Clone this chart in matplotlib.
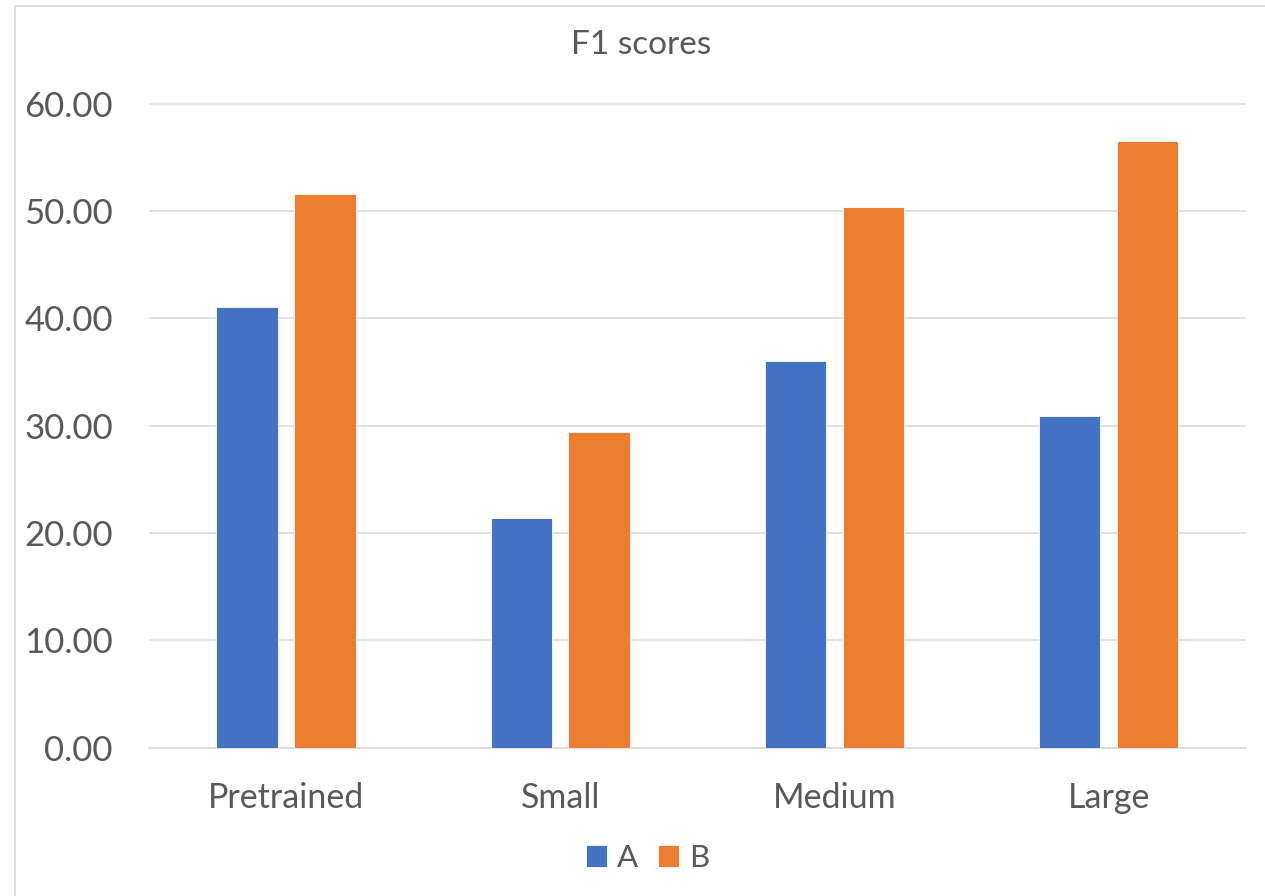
import matplotlib
matplotlib.use("Agg")
import matplotlib.pyplot as plt
from matplotlib.patches import Patch, Rectangle
import numpy as np

categories = ["Pretrained", "Small", "Medium", "Large"]
series_names = ["A", "B"]
values_a = [41.02, 21.34, 35.99, 30.89]
values_b = [51.55, 29.35, 50.40, 56.52]
y_ticks = [0, 10, 20, 30, 40, 50, 60]

BLUE = "#4472C4"
ORANGE = "#ED7D31"
TEXT = "#595959"
GRID = "#D9D9D9"

plt.rcParams["font.family"] = ["Lato", "DejaVu Sans"]

W, H = 1265, 896
fig = plt.figure(figsize=(W / 100, H / 100), dpi=100)

# chart-area border (runs off the right and bottom edges)
fig.patches.append(Rectangle((15 / W, -0.1), 1.2, 1.1 - 6 / H,
                             transform=fig.transFigure, fill=False,
                             edgecolor=GRID, linewidth=1.2, zorder=0))

ax = fig.add_axes([149 / W, 1 - 747.5 / H, (1245.7 - 149) / W, (747.5 - 103.5) / H])

x = np.arange(len(categories))
width = 0.2245
offset = 0.142
ax.bar(x - offset, values_a, width, color=BLUE, edgecolor="white", linewidth=0.6, zorder=3, label=series_names[0])
ax.bar(x + offset, values_b, width, color=ORANGE, edgecolor="white", linewidth=0.6, zorder=3, label=series_names[1])

ax.set_xlim(-0.5, len(categories) - 0.5)
ax.set_ylim(0, 60)
ax.set_yticks(y_ticks)
ax.set_yticklabels([f"{v:.2f}" for v in y_ticks])
ax.set_xticks(x)
ax.set_xticklabels(categories)

ax.yaxis.grid(True, color=GRID, linewidth=1.1, zorder=0)
ax.set_axisbelow(True)
for side in ["top", "right", "left"]:
    ax.spines[side].set_visible(False)
ax.spines["bottom"].set_color(GRID)
ax.spines["bottom"].set_linewidth(1.1)
ax.spines["bottom"].set_zorder(1)

ax.tick_params(axis="y", length=0, pad=26, labelsize=25, labelcolor=TEXT)
ax.tick_params(axis="x", length=0, pad=24.5, labelsize=24.5, labelcolor=TEXT)

fig.text(641.5 / W, 1 - 45.5 / H, "F1 scores", ha="center", va="center",
         fontsize=24, color=TEXT)

handles = [Patch(facecolor=BLUE, edgecolor="white", linewidth=0.6),
           Patch(facecolor=ORANGE, edgecolor="white", linewidth=0.6)]
fig.legend(handles, series_names, loc="center", bbox_to_anchor=(647.5 / W, 1 - 858 / H),
           ncol=2, frameon=False, fontsize=22.5, labelcolor=TEXT,
           handlelength=0.68, handleheight=0.68, handletextpad=0.3, columnspacing=0.65)

fig.savefig("out.png", dpi=100, facecolor="white")
